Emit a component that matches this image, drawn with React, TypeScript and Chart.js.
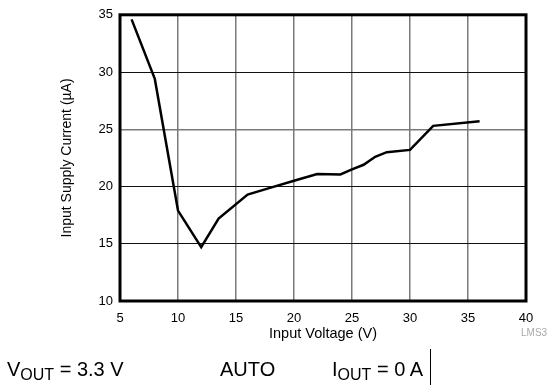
import React, { useEffect, useRef } from "react";
import { Chart, registerables } from "chart.js";

Chart.register(...registerables);

const voltage = [6, 8, 10, 12, 13.5, 16, 18, 20, 22, 24, 25, 26, 27, 28, 30, 32, 36];
const current = [34.6, 29.4, 17.9, 14.7, 17.2, 19.3, 19.9, 20.5, 21.1, 21.05, 21.5, 21.9, 22.6, 23.0, 23.2, 25.3, 25.7];
const xTicks = [5, 10, 15, 20, 25, 30, 35, 40];
const yTicks = [10, 15, 20, 25, 30, 35];
const xTitle = "Input Voltage (V)";
const yTitle = "Input Supply Current (\u00B5A)";

const FONT = "'Liberation Sans', Arial, Helvetica, sans-serif";

const borderPlugin = {
  id: "frame",
  afterDatasetsDraw(chart: any) {
    const { ctx, chartArea } = chart;
    ctx.save();
    ctx.strokeStyle = "#000";
    ctx.lineWidth = 3;
    ctx.strokeRect(chartArea.left, chartArea.top, chartArea.right - chartArea.left, chartArea.bottom - chartArea.top);
    ctx.restore();
  },
};

export default function App() {
  const ref = useRef<HTMLCanvasElement | null>(null);
  useEffect(() => {
    if (!ref.current) return;
    const chart = new Chart(ref.current, {
      type: "line",
      data: {
        datasets: [
          {
            data: voltage.map((v, i) => ({ x: v, y: current[i] })),
            borderColor: "#000",
            borderWidth: 2.5,
            pointRadius: 0,
            tension: 0,
            fill: false,
          },
        ],
      },
      options: {
        animation: false,
        responsive: false,
        maintainAspectRatio: false,
        layout: { padding: { left: 60, right: 22, top: 13, bottom: 38 } },
        plugins: { legend: { display: false }, tooltip: { enabled: false } },
        scales: {
          x: {
            type: "linear",
            min: 5,
            max: 40,
            afterBuildTicks: (s: any) => {
              s.ticks = xTicks.map((v) => ({ value: v }));
            },
            afterFit: (s: any) => {
              s.height = 48;
            },
            grid: { color: "#7a7a7a", lineWidth: 1.5, drawTicks: false },
            border: { display: false },
            ticks: { padding: 10, color: "#000", font: { family: FONT, size: 13 } },
            title: {
              display: true,
              text: xTitle,
              color: "#000",
              font: { family: FONT, size: 14.5 },
              padding: { top: 0, bottom: 6 },
            },
          },
          y: {
            type: "linear",
            min: 10,
            max: 35,
            afterBuildTicks: (s: any) => {
              s.ticks = yTicks.map((v) => ({ value: v }));
            },
            afterFit: (s: any) => {
              s.width = 60;
            },
            grid: {
              color: (c: any) => (c.tick && c.tick.value === 25 ? "#7a7a7a" : "#111"),
              lineWidth: (c: any) => (c.tick && c.tick.value === 25 ? 1.5 : 1),
              drawTicks: false,
            },
            border: { display: false },
            ticks: { padding: 7, color: "#000", font: { family: FONT, size: 13 } },
            title: {
              display: true,
              text: yTitle,
              color: "#000",
              font: { family: FONT, size: 14 },
              padding: { top: -1, bottom: 0 },
            },
          },
        },
      },
      plugins: [borderPlugin],
    });
    return () => chart.destroy();
  }, []);

  const base: React.CSSProperties = {
    position: "absolute",
    fontFamily: FONT,
    fontSize: 20,
    color: "#000",
    whiteSpace: "nowrap",
    lineHeight: "24px",
  };
  const sub: React.CSSProperties = { fontSize: 16, position: "relative", top: 4 };

  return (
    <div style={{ position: "absolute", left: 0, top: 0, width: 548, height: 387, overflow: "hidden", background: "#fff" }}>
      <canvas ref={ref} width={548} height={387} style={{ position: "absolute", left: 0, top: 0, width: 548, height: 387 }} />
      <div style={{ ...base, left: 521, top: 327, fontSize: 10, lineHeight: "12px", color: "#aaa" }}>LMS3</div>
      <div style={{ ...base, left: 7, top: 357 }}>
        V<span style={sub}>OUT</span> = 3.3 V
      </div>
      <div style={{ ...base, left: 220, top: 357 }}>AUTO</div>
      <div style={{ ...base, left: 332, top: 357 }}>
        I<span style={sub}>OUT</span> = 0 A
      </div>
      <div style={{ position: "absolute", left: 430, top: 349, width: 1, height: 36, background: "#000" }} />
    </div>
  );
}
